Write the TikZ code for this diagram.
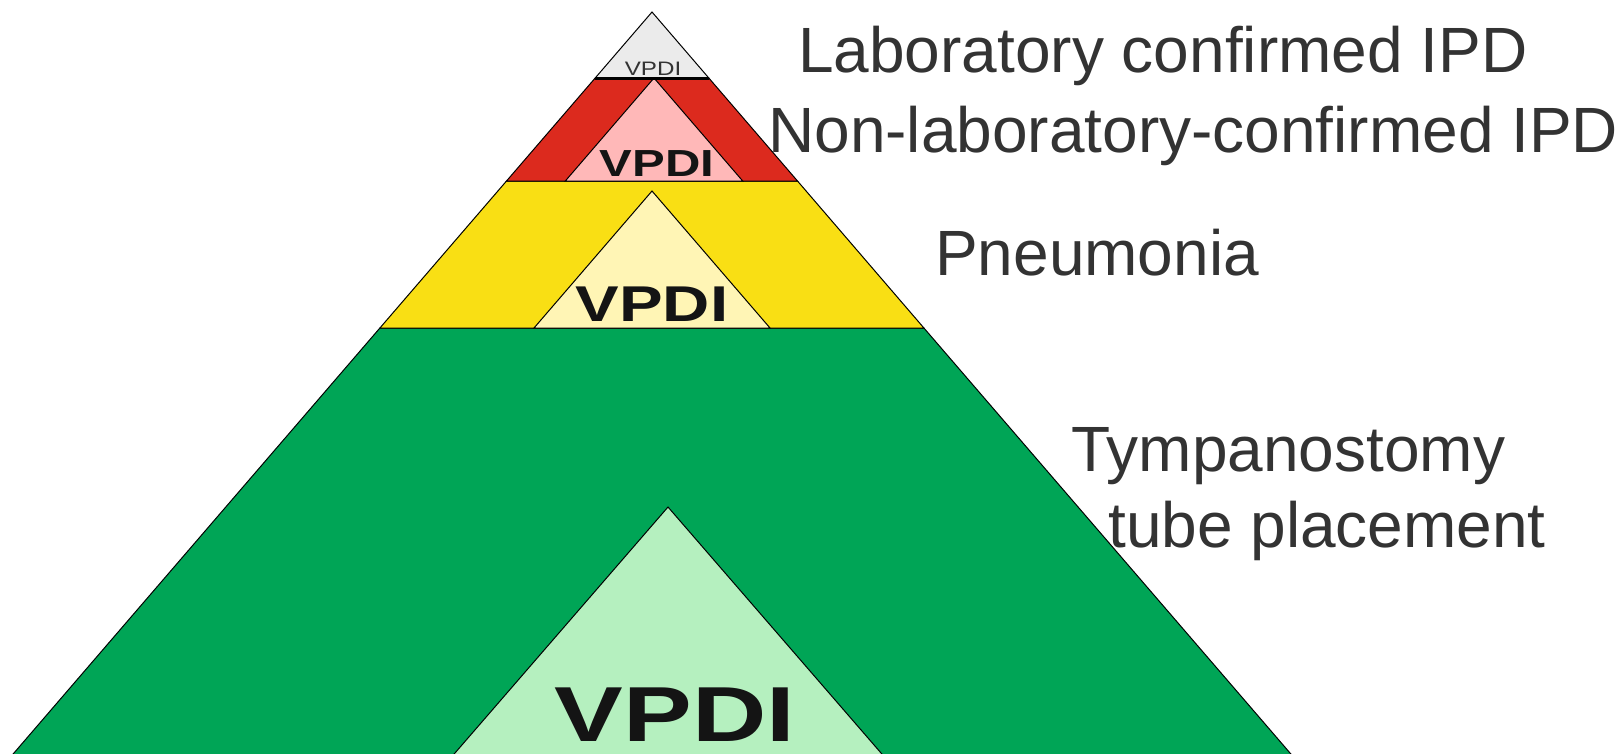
\documentclass[tikz,border=0pt]{standalone}
\usepackage{fontspec}
\setmainfont{Liberation Sans}
\definecolor{txtgray}{HTML}{333333}
\definecolor{vblack}{HTML}{141414}
\definecolor{topgray}{HTML}{EBEBEB}
\definecolor{redband}{HTML}{DC2A1E}
\definecolor{pinktri}{HTML}{FFB8B8}
\definecolor{yellowband}{HTML}{F9DF14}
\definecolor{ltyellow}{HTML}{FFF5B5}
\definecolor{greenband}{HTML}{00A556}
\definecolor{ltgreen}{HTML}{B5F0BF}
\tikzset{
  layer/.style={draw=black, line width=1pt, line join=miter},
  label/.style={inner sep=0pt, anchor=base west, text=txtgray, font=\fontsize{64}{64}\selectfont},
  vpdi/.style={inner sep=0pt, anchor=base, text=vblack}
}
\begin{document}
\begin{tikzpicture}[x=1pt,y=-1pt]
\useasboundingbox (0,0) rectangle (1622,753);
\begin{scope}
\clip (0,0) rectangle (1622,753);
% green band
\path[layer, fill=greenband] (379.9,328) -- (923.9,328) -- (1330.5,800) -- (-26.5,800) -- cycle;
% yellow band
\path[layer, fill=yellowband] (506.5,181) -- (797.5,181) -- (923.9,328) -- (379.9,328) -- cycle;
% red band
\path[layer, fill=redband] (595.2,78) -- (708.8,78) -- (797.5,181) -- (506.5,181) -- cycle;
% top gray
\path[layer, fill=topgray] (652,12) -- (708.8,78) -- (595.2,78) -- cycle;
% inner triangles
\path[layer, fill=pinktri] (654,78) -- (742.7,181) -- (565.3,181) -- cycle;
\path[layer, fill=ltyellow] (652,191) -- (770,328) -- (534,328) -- cycle;
\path[layer, fill=ltgreen] (668,507) -- (921.7,800) -- (414.3,800) -- cycle;
% thick base of top triangle
\draw[line width=2.6pt, black] (595.2,78.5) -- (708.8,78.5);
\end{scope}
% VPDI labels
\node[vpdi, text=txtgray, font=\fontsize{19.5}{19.5}\selectfont] (v1) at (653,75) {\scalebox{1.24}[1]{VPDI}};
\node[vpdi, font=\fontsize{37.7}{37.7}\selectfont\bfseries] (v2) at (657,176) {\scalebox{1.30}[1]{VPDI}};
\node[vpdi, font=\fontsize{50.3}{50.3}\selectfont\bfseries] (v3) at (652,321.7) {\scalebox{1.30}[1]{VPDI}};
\node[vpdi, font=\fontsize{78}{78}\selectfont\bfseries] (v4) at (675,741) {\scalebox{1.32}[1]{VPDI}};
% right labels
\node[label] (lab) at (798,72) {Laboratory confirmed IPD};
\node[label] (nonlab) at (768,152) {Non-laboratory-confirmed IPD};
\node[label] (pneu) at (935,275) {Pneumonia};
\node[label] (tymp) at (1071,471) {Tympanostomy};
\node[label] (tube) at (1108,547) {tube placement};
\end{tikzpicture}
\end{document}
